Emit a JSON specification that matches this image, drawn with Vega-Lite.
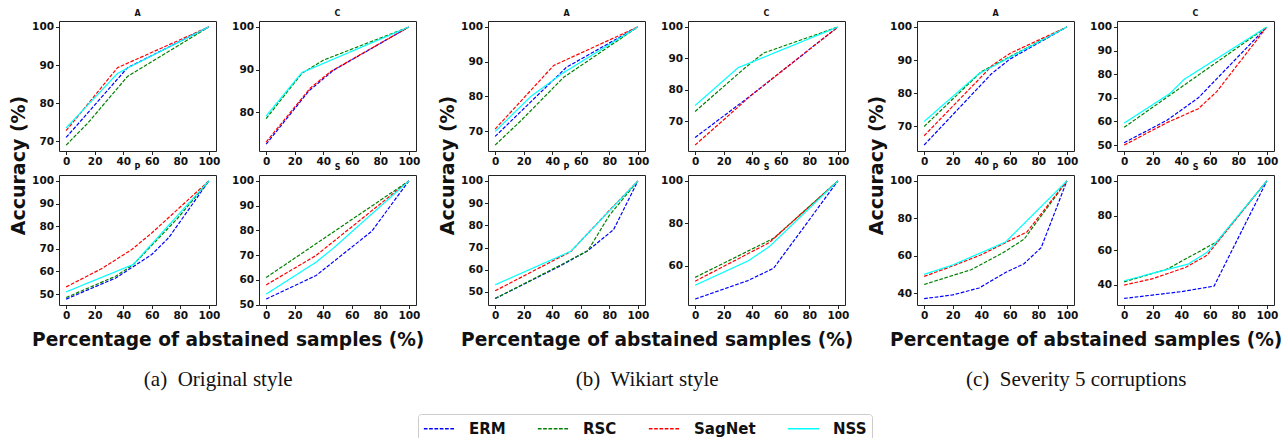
{
"$schema": "https://vega.github.io/schema/vega-lite/v6.json",
"padding": {"left": 10, "top": 9, "right": 2, "bottom": 0},
"datasets": {"d": [
{"g":"a","p":"A","m":"ERM","x":0,"y":71},{"g":"a","p":"A","m":"ERM","x":43,"y":89.3},{"g":"a","p":"A","m":"ERM","x":100,"y":100},
{"g":"a","p":"A","m":"RSC","x":0,"y":69},{"g":"a","p":"A","m":"RSC","x":15,"y":74.7},{"g":"a","p":"A","m":"RSC","x":43,"y":87},{"g":"a","p":"A","m":"RSC","x":100,"y":100},
{"g":"a","p":"A","m":"SagNet","x":0,"y":72.8},{"g":"a","p":"A","m":"SagNet","x":36,"y":89.3},{"g":"a","p":"A","m":"SagNet","x":100,"y":100},
{"g":"a","p":"A","m":"NSS","x":0,"y":73.5},{"g":"a","p":"A","m":"NSS","x":36,"y":87.8},{"g":"a","p":"A","m":"NSS","x":43,"y":89.2},{"g":"a","p":"A","m":"NSS","x":100,"y":100},

{"g":"a","p":"C","m":"ERM","x":0,"y":72.5},{"g":"a","p":"C","m":"ERM","x":30,"y":85},{"g":"a","p":"C","m":"ERM","x":47,"y":89.8},{"g":"a","p":"C","m":"ERM","x":100,"y":100},
{"g":"a","p":"C","m":"RSC","x":0,"y":78.5},{"g":"a","p":"C","m":"RSC","x":25,"y":89.1},{"g":"a","p":"C","m":"RSC","x":40,"y":92.2},{"g":"a","p":"C","m":"RSC","x":100,"y":100},
{"g":"a","p":"C","m":"SagNet","x":0,"y":73},{"g":"a","p":"C","m":"SagNet","x":31,"y":85.7},{"g":"a","p":"C","m":"SagNet","x":45,"y":89.5},{"g":"a","p":"C","m":"SagNet","x":100,"y":100},
{"g":"a","p":"C","m":"NSS","x":0,"y":79.1},{"g":"a","p":"C","m":"NSS","x":25,"y":89.3},{"g":"a","p":"C","m":"NSS","x":100,"y":100},

{"g":"a","p":"P","m":"ERM","x":0,"y":47.8},{"g":"a","p":"P","m":"ERM","x":35,"y":57.2},{"g":"a","p":"P","m":"ERM","x":60,"y":67.5},{"g":"a","p":"P","m":"ERM","x":72,"y":75},{"g":"a","p":"P","m":"ERM","x":100,"y":100},
{"g":"a","p":"P","m":"RSC","x":0,"y":48.5},{"g":"a","p":"P","m":"RSC","x":35,"y":58},{"g":"a","p":"P","m":"RSC","x":47,"y":63},{"g":"a","p":"P","m":"RSC","x":78,"y":83.4},{"g":"a","p":"P","m":"RSC","x":100,"y":100},
{"g":"a","p":"P","m":"SagNet","x":0,"y":53.2},{"g":"a","p":"P","m":"SagNet","x":25,"y":61.3},{"g":"a","p":"P","m":"SagNet","x":46,"y":69.7},{"g":"a","p":"P","m":"SagNet","x":60,"y":77},{"g":"a","p":"P","m":"SagNet","x":100,"y":100},
{"g":"a","p":"P","m":"NSS","x":0,"y":51},{"g":"a","p":"P","m":"NSS","x":47,"y":63.1},{"g":"a","p":"P","m":"NSS","x":100,"y":100},

{"g":"a","p":"S","m":"ERM","x":0,"y":52.3},{"g":"a","p":"S","m":"ERM","x":35,"y":61.8},{"g":"a","p":"S","m":"ERM","x":74,"y":79.7},{"g":"a","p":"S","m":"ERM","x":100,"y":100},
{"g":"a","p":"S","m":"RSC","x":0,"y":61},{"g":"a","p":"S","m":"RSC","x":100,"y":100},
{"g":"a","p":"S","m":"SagNet","x":0,"y":58},{"g":"a","p":"S","m":"SagNet","x":35,"y":69.9},{"g":"a","p":"S","m":"SagNet","x":100,"y":100},
{"g":"a","p":"S","m":"NSS","x":0,"y":54.3},{"g":"a","p":"S","m":"NSS","x":35,"y":67.2},{"g":"a","p":"S","m":"NSS","x":47,"y":72.8},{"g":"a","p":"S","m":"NSS","x":100,"y":100},

{"g":"b","p":"A","m":"ERM","x":0,"y":68.5},{"g":"b","p":"A","m":"ERM","x":50,"y":88.4},{"g":"b","p":"A","m":"ERM","x":100,"y":100},
{"g":"b","p":"A","m":"RSC","x":0,"y":66},{"g":"b","p":"A","m":"RSC","x":18,"y":73},{"g":"b","p":"A","m":"RSC","x":48,"y":85.5},{"g":"b","p":"A","m":"RSC","x":100,"y":100},
{"g":"b","p":"A","m":"SagNet","x":0,"y":70.6},{"g":"b","p":"A","m":"SagNet","x":41,"y":88.9},{"g":"b","p":"A","m":"SagNet","x":100,"y":100},
{"g":"b","p":"A","m":"NSS","x":0,"y":69.9},{"g":"b","p":"A","m":"NSS","x":25,"y":80},{"g":"b","p":"A","m":"NSS","x":47,"y":86.6},{"g":"b","p":"A","m":"NSS","x":100,"y":100},

{"g":"b","p":"C","m":"ERM","x":0,"y":64.8},{"g":"b","p":"C","m":"ERM","x":40,"y":78.5},{"g":"b","p":"C","m":"ERM","x":100,"y":100},
{"g":"b","p":"C","m":"RSC","x":0,"y":73.1},{"g":"b","p":"C","m":"RSC","x":35,"y":87},{"g":"b","p":"C","m":"RSC","x":48,"y":91.7},{"g":"b","p":"C","m":"RSC","x":100,"y":100},
{"g":"b","p":"C","m":"SagNet","x":0,"y":62.4},{"g":"b","p":"C","m":"SagNet","x":40,"y":78.5},{"g":"b","p":"C","m":"SagNet","x":100,"y":100},
{"g":"b","p":"C","m":"NSS","x":0,"y":75},{"g":"b","p":"C","m":"NSS","x":30,"y":87},{"g":"b","p":"C","m":"NSS","x":100,"y":100},

{"g":"b","p":"P","m":"ERM","x":0,"y":47},{"g":"b","p":"P","m":"ERM","x":45,"y":61.5},{"g":"b","p":"P","m":"ERM","x":65,"y":68.6},{"g":"b","p":"P","m":"ERM","x":83,"y":78.1},{"g":"b","p":"P","m":"ERM","x":100,"y":100},
{"g":"b","p":"P","m":"RSC","x":0,"y":47},{"g":"b","p":"P","m":"RSC","x":47,"y":62.5},{"g":"b","p":"P","m":"RSC","x":65,"y":68.6},{"g":"b","p":"P","m":"RSC","x":80,"y":84.5},{"g":"b","p":"P","m":"RSC","x":100,"y":100},
{"g":"b","p":"P","m":"SagNet","x":0,"y":50.5},{"g":"b","p":"P","m":"SagNet","x":53,"y":68.2},{"g":"b","p":"P","m":"SagNet","x":80,"y":86.7},{"g":"b","p":"P","m":"SagNet","x":100,"y":100},
{"g":"b","p":"P","m":"NSS","x":0,"y":53.2},{"g":"b","p":"P","m":"NSS","x":53,"y":68.3},{"g":"b","p":"P","m":"NSS","x":100,"y":100},

{"g":"b","p":"S","m":"ERM","x":0,"y":44.4},{"g":"b","p":"S","m":"ERM","x":37,"y":53.1},{"g":"b","p":"S","m":"ERM","x":55,"y":58.9},{"g":"b","p":"S","m":"ERM","x":100,"y":100},
{"g":"b","p":"S","m":"RSC","x":0,"y":54.6},{"g":"b","p":"S","m":"RSC","x":55,"y":73},{"g":"b","p":"S","m":"RSC","x":100,"y":100},
{"g":"b","p":"S","m":"SagNet","x":0,"y":52.8},{"g":"b","p":"S","m":"SagNet","x":52,"y":71},{"g":"b","p":"S","m":"SagNet","x":100,"y":100},
{"g":"b","p":"S","m":"NSS","x":0,"y":50.9},{"g":"b","p":"S","m":"NSS","x":37,"y":62.3},{"g":"b","p":"S","m":"NSS","x":52,"y":69.1},{"g":"b","p":"S","m":"NSS","x":100,"y":100},

{"g":"c","p":"A","m":"ERM","x":0,"y":64.4},{"g":"c","p":"A","m":"ERM","x":47,"y":85.8},{"g":"c","p":"A","m":"ERM","x":60,"y":90.3},{"g":"c","p":"A","m":"ERM","x":100,"y":100},
{"g":"c","p":"A","m":"RSC","x":0,"y":70},{"g":"c","p":"A","m":"RSC","x":40,"y":86.5},{"g":"c","p":"A","m":"RSC","x":100,"y":100},
{"g":"c","p":"A","m":"SagNet","x":0,"y":67.2},{"g":"c","p":"A","m":"SagNet","x":48,"y":88.5},{"g":"c","p":"A","m":"SagNet","x":60,"y":92},{"g":"c","p":"A","m":"SagNet","x":100,"y":100},
{"g":"c","p":"A","m":"NSS","x":0,"y":71.5},{"g":"c","p":"A","m":"NSS","x":38,"y":85.8},{"g":"c","p":"A","m":"NSS","x":100,"y":100},

{"g":"c","p":"C","m":"ERM","x":0,"y":51},{"g":"c","p":"C","m":"ERM","x":30,"y":60.5},{"g":"c","p":"C","m":"ERM","x":52,"y":70},{"g":"c","p":"C","m":"ERM","x":100,"y":100},
{"g":"c","p":"C","m":"RSC","x":0,"y":57.5},{"g":"c","p":"C","m":"RSC","x":100,"y":100},
{"g":"c","p":"C","m":"SagNet","x":0,"y":50},{"g":"c","p":"C","m":"SagNet","x":30,"y":59.5},{"g":"c","p":"C","m":"SagNet","x":52,"y":65.4},{"g":"c","p":"C","m":"SagNet","x":65,"y":72.7},{"g":"c","p":"C","m":"SagNet","x":100,"y":100},
{"g":"c","p":"C","m":"NSS","x":0,"y":59.3},{"g":"c","p":"C","m":"NSS","x":32,"y":71.8},{"g":"c","p":"C","m":"NSS","x":42,"y":77.8},{"g":"c","p":"C","m":"NSS","x":100,"y":100},

{"g":"c","p":"P","m":"ERM","x":0,"y":37},{"g":"c","p":"P","m":"ERM","x":20,"y":39},{"g":"c","p":"P","m":"ERM","x":38.5,"y":42.7},{"g":"c","p":"P","m":"ERM","x":57,"y":51},{"g":"c","p":"P","m":"ERM","x":70,"y":55.7},{"g":"c","p":"P","m":"ERM","x":82,"y":64.3},{"g":"c","p":"P","m":"ERM","x":100,"y":100},
{"g":"c","p":"P","m":"RSC","x":0,"y":44.6},{"g":"c","p":"P","m":"RSC","x":33,"y":52.5},{"g":"c","p":"P","m":"RSC","x":55,"y":61.5},{"g":"c","p":"P","m":"RSC","x":70,"y":68.8},{"g":"c","p":"P","m":"RSC","x":100,"y":100},
{"g":"c","p":"P","m":"SagNet","x":0,"y":48.9},{"g":"c","p":"P","m":"SagNet","x":20,"y":54.5},{"g":"c","p":"P","m":"SagNet","x":40,"y":60.5},{"g":"c","p":"P","m":"SagNet","x":57,"y":67},{"g":"c","p":"P","m":"SagNet","x":72,"y":72.7},{"g":"c","p":"P","m":"SagNet","x":100,"y":100},
{"g":"c","p":"P","m":"NSS","x":0,"y":50},{"g":"c","p":"P","m":"NSS","x":20,"y":55},{"g":"c","p":"P","m":"NSS","x":57,"y":67.3},{"g":"c","p":"P","m":"NSS","x":100,"y":100},

{"g":"c","p":"S","m":"ERM","x":0,"y":32.1},{"g":"c","p":"S","m":"ERM","x":40,"y":36},{"g":"c","p":"S","m":"ERM","x":63,"y":39.2},{"g":"c","p":"S","m":"ERM","x":100,"y":100},
{"g":"c","p":"S","m":"RSC","x":0,"y":41.7},{"g":"c","p":"S","m":"RSC","x":30,"y":49},{"g":"c","p":"S","m":"RSC","x":65,"y":64.8},{"g":"c","p":"S","m":"RSC","x":100,"y":100},
{"g":"c","p":"S","m":"SagNet","x":0,"y":39.8},{"g":"c","p":"S","m":"SagNet","x":20,"y":43.5},{"g":"c","p":"S","m":"SagNet","x":43,"y":50},{"g":"c","p":"S","m":"SagNet","x":58,"y":57},{"g":"c","p":"S","m":"SagNet","x":100,"y":100},
{"g":"c","p":"S","m":"NSS","x":0,"y":42.3},{"g":"c","p":"S","m":"NSS","x":45,"y":52},{"g":"c","p":"S","m":"NSS","x":58,"y":58.7},{"g":"c","p":"S","m":"NSS","x":65,"y":65},{"g":"c","p":"S","m":"NSS","x":100,"y":100}
]},
"data": {"name": "d"},
"hconcat": [
 {"title": {"text": "(a)\u00a0 Original style", "orient": "bottom", "font": "Liberation Serif", "fontSize": 21, "fontWeight": "normal", "offset": 20, "anchor": "middle", "dx": 1},
  "vconcat": [{
   "title": {"text": "Percentage of abstained samples (%)", "orient": "bottom", "font": "DejaVu Sans", "fontSize": 18.6, "fontWeight": "bold", "offset": 9, "anchor": "middle", "dx": 13},
   "vconcat": [{
    "title": {"text": "Accuracy (%)", "orient": "left", "font": "DejaVu Sans", "fontSize": 19, "fontWeight": "bold", "offset": 2, "anchor": "middle"},
    "columns": 2, "spacing": {"row": -5, "column": 10},
    "concat": [
     {"title": "A", "width": 157, "height": 130, "transform": [{"filter": "datum.g=='a' && datum.p=='A'"}], "mark": {"type": "line", "strokeWidth": 1.2},
      "encoding": {"x": {"field": "x", "type": "quantitative", "scale": {"domain": [-5, 105], "nice": false, "zero": false}, "axis": {"values": [0,20,40,60,80,100], "title": null}},
       "y": {"field": "y", "type": "quantitative", "scale": {"domain": [67.45, 101.55], "nice": false, "zero": false}, "axis": {"values": [70,80,90,100], "title": null}},
       "color": {"field": "m", "type": "nominal", "title": null, "scale": {"domain": ["ERM","RSC","SagNet","NSS"], "range": ["#0000ff","#008000","#ff0000","#00ffff"]}},
       "strokeDash": {"field": "m", "type": "nominal", "title": null, "scale": {"domain": ["ERM","RSC","SagNet","NSS"], "range": [[3.7,1.6],[3.7,1.6],[3.7,1.6],[1,0]]}}}},
     {"title": "C", "width": 157, "height": 130, "transform": [{"filter": "datum.g=='a' && datum.p=='C'"}], "mark": {"type": "line", "strokeWidth": 1.2},
      "encoding": {"x": {"field": "x", "type": "quantitative", "scale": {"domain": [-5, 105], "nice": false, "zero": false}, "axis": {"values": [0,20,40,60,80,100], "title": null}},
       "y": {"field": "y", "type": "quantitative", "scale": {"domain": [70.9, 101.4], "nice": false, "zero": false}, "axis": {"values": [80,90,100], "title": null}},
       "color": {"field": "m", "type": "nominal", "title": null, "scale": {"domain": ["ERM","RSC","SagNet","NSS"], "range": ["#0000ff","#008000","#ff0000","#00ffff"]}},
       "strokeDash": {"field": "m", "type": "nominal", "title": null, "scale": {"domain": ["ERM","RSC","SagNet","NSS"], "range": [[3.7,1.6],[3.7,1.6],[3.7,1.6],[1,0]]}}}},
     {"title": "P", "width": 157, "height": 130, "transform": [{"filter": "datum.g=='a' && datum.p=='P'"}], "mark": {"type": "line", "strokeWidth": 1.2},
      "encoding": {"x": {"field": "x", "type": "quantitative", "scale": {"domain": [-5, 105], "nice": false, "zero": false}, "axis": {"values": [0,20,40,60,80,100], "title": null}},
       "y": {"field": "y", "type": "quantitative", "scale": {"domain": [45.2, 102.6], "nice": false, "zero": false}, "axis": {"values": [50,60,70,80,90,100], "title": null}},
       "color": {"field": "m", "type": "nominal", "title": null, "scale": {"domain": ["ERM","RSC","SagNet","NSS"], "range": ["#0000ff","#008000","#ff0000","#00ffff"]}},
       "strokeDash": {"field": "m", "type": "nominal", "title": null, "scale": {"domain": ["ERM","RSC","SagNet","NSS"], "range": [[3.7,1.6],[3.7,1.6],[3.7,1.6],[1,0]]}}}},
     {"title": "S", "width": 157, "height": 130, "transform": [{"filter": "datum.g=='a' && datum.p=='S'"}], "mark": {"type": "line", "strokeWidth": 1.2},
      "encoding": {"x": {"field": "x", "type": "quantitative", "scale": {"domain": [-5, 105], "nice": false, "zero": false}, "axis": {"values": [0,20,40,60,80,100], "title": null}},
       "y": {"field": "y", "type": "quantitative", "scale": {"domain": [49.9, 102.4], "nice": false, "zero": false}, "axis": {"values": [50,60,70,80,90,100], "title": null}},
       "color": {"field": "m", "type": "nominal", "title": null, "scale": {"domain": ["ERM","RSC","SagNet","NSS"], "range": ["#0000ff","#008000","#ff0000","#00ffff"]}},
       "strokeDash": {"field": "m", "type": "nominal", "title": null, "scale": {"domain": ["ERM","RSC","SagNet","NSS"], "range": [[3.7,1.6],[3.7,1.6],[3.7,1.6],[1,0]]}}}}
    ]
   }]
  }]
 },
 {"title": {"text": "(b)\u00a0 Wikiart style", "orient": "bottom", "font": "Liberation Serif", "fontSize": 21, "fontWeight": "normal", "offset": 20, "anchor": "middle", "dx": 1},
  "vconcat": [{
   "title": {"text": "Percentage of abstained samples (%)", "orient": "bottom", "font": "DejaVu Sans", "fontSize": 18.6, "fontWeight": "bold", "offset": 9, "anchor": "middle", "dx": 13},
   "vconcat": [{
    "title": {"text": "Accuracy (%)", "orient": "left", "font": "DejaVu Sans", "fontSize": 19, "fontWeight": "bold", "offset": 2, "anchor": "middle"},
    "columns": 2, "spacing": {"row": -5, "column": 10},
    "concat": [
     {"title": "A", "width": 157, "height": 130, "transform": [{"filter": "datum.g=='b' && datum.p=='A'"}], "mark": {"type": "line", "strokeWidth": 1.2},
      "encoding": {"x": {"field": "x", "type": "quantitative", "scale": {"domain": [-5, 105], "nice": false, "zero": false}, "axis": {"values": [0,20,40,60,80,100], "title": null}},
       "y": {"field": "y", "type": "quantitative", "scale": {"domain": [64.3, 101.7], "nice": false, "zero": false}, "axis": {"values": [70,80,90,100], "title": null}},
       "color": {"field": "m", "type": "nominal", "title": null, "scale": {"domain": ["ERM","RSC","SagNet","NSS"], "range": ["#0000ff","#008000","#ff0000","#00ffff"]}},
       "strokeDash": {"field": "m", "type": "nominal", "title": null, "scale": {"domain": ["ERM","RSC","SagNet","NSS"], "range": [[3.7,1.6],[3.7,1.6],[3.7,1.6],[1,0]]}}}},
     {"title": "C", "width": 157, "height": 130, "transform": [{"filter": "datum.g=='b' && datum.p=='C'"}], "mark": {"type": "line", "strokeWidth": 1.2},
      "encoding": {"x": {"field": "x", "type": "quantitative", "scale": {"domain": [-5, 105], "nice": false, "zero": false}, "axis": {"values": [0,20,40,60,80,100], "title": null}},
       "y": {"field": "y", "type": "quantitative", "scale": {"domain": [60.5, 101.9], "nice": false, "zero": false}, "axis": {"values": [70,80,90,100], "title": null}},
       "color": {"field": "m", "type": "nominal", "title": null, "scale": {"domain": ["ERM","RSC","SagNet","NSS"], "range": ["#0000ff","#008000","#ff0000","#00ffff"]}},
       "strokeDash": {"field": "m", "type": "nominal", "title": null, "scale": {"domain": ["ERM","RSC","SagNet","NSS"], "range": [[3.7,1.6],[3.7,1.6],[3.7,1.6],[1,0]]}}}},
     {"title": "P", "width": 157, "height": 130, "transform": [{"filter": "datum.g=='b' && datum.p=='P'"}], "mark": {"type": "line", "strokeWidth": 1.2},
      "encoding": {"x": {"field": "x", "type": "quantitative", "scale": {"domain": [-5, 105], "nice": false, "zero": false}, "axis": {"values": [0,20,40,60,80,100], "title": null}},
       "y": {"field": "y", "type": "quantitative", "scale": {"domain": [44.1, 102.7], "nice": false, "zero": false}, "axis": {"values": [50,60,70,80,90,100], "title": null}},
       "color": {"field": "m", "type": "nominal", "title": null, "scale": {"domain": ["ERM","RSC","SagNet","NSS"], "range": ["#0000ff","#008000","#ff0000","#00ffff"]}},
       "strokeDash": {"field": "m", "type": "nominal", "title": null, "scale": {"domain": ["ERM","RSC","SagNet","NSS"], "range": [[3.7,1.6],[3.7,1.6],[3.7,1.6],[1,0]]}}}},
     {"title": "S", "width": 157, "height": 130, "transform": [{"filter": "datum.g=='b' && datum.p=='S'"}], "mark": {"type": "line", "strokeWidth": 1.2},
      "encoding": {"x": {"field": "x", "type": "quantitative", "scale": {"domain": [-5, 105], "nice": false, "zero": false}, "axis": {"values": [0,20,40,60,80,100], "title": null}},
       "y": {"field": "y", "type": "quantitative", "scale": {"domain": [41.6, 102.8], "nice": false, "zero": false}, "axis": {"values": [60,80,100], "title": null}},
       "color": {"field": "m", "type": "nominal", "title": null, "scale": {"domain": ["ERM","RSC","SagNet","NSS"], "range": ["#0000ff","#008000","#ff0000","#00ffff"]}},
       "strokeDash": {"field": "m", "type": "nominal", "title": null, "scale": {"domain": ["ERM","RSC","SagNet","NSS"], "range": [[3.7,1.6],[3.7,1.6],[3.7,1.6],[1,0]]}}}}
    ]
   }]
  }]
 },
 {"title": {"text": "(c)\u00a0 Severity 5 corruptions", "orient": "bottom", "font": "Liberation Serif", "fontSize": 21, "fontWeight": "normal", "offset": 20, "anchor": "middle", "dx": 1},
  "vconcat": [{
   "title": {"text": "Percentage of abstained samples (%)", "orient": "bottom", "font": "DejaVu Sans", "fontSize": 18.6, "fontWeight": "bold", "offset": 9, "anchor": "middle", "dx": 13},
   "vconcat": [{
    "title": {"text": "Accuracy (%)", "orient": "left", "font": "DejaVu Sans", "fontSize": 19, "fontWeight": "bold", "offset": 2, "anchor": "middle"},
    "columns": 2, "spacing": {"row": -5, "column": 10},
    "concat": [
     {"title": "A", "width": 157, "height": 130, "transform": [{"filter": "datum.g=='c' && datum.p=='A'"}], "mark": {"type": "line", "strokeWidth": 1.2},
      "encoding": {"x": {"field": "x", "type": "quantitative", "scale": {"domain": [-5, 105], "nice": false, "zero": false}, "axis": {"values": [0,20,40,60,80,100], "title": null}},
       "y": {"field": "y", "type": "quantitative", "scale": {"domain": [62.6, 101.8], "nice": false, "zero": false}, "axis": {"values": [70,80,90,100], "title": null}},
       "color": {"field": "m", "type": "nominal", "title": null, "scale": {"domain": ["ERM","RSC","SagNet","NSS"], "range": ["#0000ff","#008000","#ff0000","#00ffff"]}},
       "strokeDash": {"field": "m", "type": "nominal", "title": null, "scale": {"domain": ["ERM","RSC","SagNet","NSS"], "range": [[3.7,1.6],[3.7,1.6],[3.7,1.6],[1,0]]}}}},
     {"title": "C", "width": 157, "height": 130, "transform": [{"filter": "datum.g=='c' && datum.p=='C'"}], "mark": {"type": "line", "strokeWidth": 1.2},
      "encoding": {"x": {"field": "x", "type": "quantitative", "scale": {"domain": [-5, 105], "nice": false, "zero": false}, "axis": {"values": [0,20,40,60,80,100], "title": null}},
       "y": {"field": "y", "type": "quantitative", "scale": {"domain": [47.5, 102.5], "nice": false, "zero": false}, "axis": {"values": [50,60,70,80,90,100], "title": null}},
       "color": {"field": "m", "type": "nominal", "title": null, "scale": {"domain": ["ERM","RSC","SagNet","NSS"], "range": ["#0000ff","#008000","#ff0000","#00ffff"]}},
       "strokeDash": {"field": "m", "type": "nominal", "title": null, "scale": {"domain": ["ERM","RSC","SagNet","NSS"], "range": [[3.7,1.6],[3.7,1.6],[3.7,1.6],[1,0]]}}}},
     {"title": "P", "width": 157, "height": 130, "transform": [{"filter": "datum.g=='c' && datum.p=='P'"}], "mark": {"type": "line", "strokeWidth": 1.2},
      "encoding": {"x": {"field": "x", "type": "quantitative", "scale": {"domain": [-5, 105], "nice": false, "zero": false}, "axis": {"values": [0,20,40,60,80,100], "title": null}},
       "y": {"field": "y", "type": "quantitative", "scale": {"domain": [33.6, 103.2], "nice": false, "zero": false}, "axis": {"values": [40,60,80,100], "title": null}},
       "color": {"field": "m", "type": "nominal", "title": null, "scale": {"domain": ["ERM","RSC","SagNet","NSS"], "range": ["#0000ff","#008000","#ff0000","#00ffff"]}},
       "strokeDash": {"field": "m", "type": "nominal", "title": null, "scale": {"domain": ["ERM","RSC","SagNet","NSS"], "range": [[3.7,1.6],[3.7,1.6],[3.7,1.6],[1,0]]}}}},
     {"title": "S", "width": 157, "height": 130, "transform": [{"filter": "datum.g=='c' && datum.p=='S'"}], "mark": {"type": "line", "strokeWidth": 1.2},
      "encoding": {"x": {"field": "x", "type": "quantitative", "scale": {"domain": [-5, 105], "nice": false, "zero": false}, "axis": {"values": [0,20,40,60,80,100], "title": null}},
       "y": {"field": "y", "type": "quantitative", "scale": {"domain": [28.3, 103.4], "nice": false, "zero": false}, "axis": {"values": [40,60,80,100], "title": null}},
       "color": {"field": "m", "type": "nominal", "title": null, "scale": {"domain": ["ERM","RSC","SagNet","NSS"], "range": ["#0000ff","#008000","#ff0000","#00ffff"]}, "legend": {"orient": "none", "legendX": 359, "legendY": 393}},
       "strokeDash": {"field": "m", "type": "nominal", "title": null, "scale": {"domain": ["ERM","RSC","SagNet","NSS"], "range": [[3.7,1.6],[3.7,1.6],[3.7,1.6],[1,0]]}, "legend": {"orient": "none", "legendX": 359, "legendY": 393}}}}
    ]
   }]
  }]
 }
],
"spacing": 14,
"config": {
 "font": "DejaVu Sans",
 "view": {"stroke": "#222", "strokeWidth": 1},
 "axis": {"domain": false, "grid": false, "ticks": true, "tickSize": 3.5, "tickColor": "#222", "labelFont": "DejaVu Sans", "labelFontWeight": "bold", "labelFontSize": 10.5, "labelColor": "#111", "labelPadding": 2, "labelFlush": false},
 "title": {"font": "DejaVu Sans", "fontWeight": "bold", "fontSize": 8, "offset": 3, "color": "#111"},
 "legend": {"orient": "none", "legendX": 359, "legendY": 393, "direction": "horizontal", "labelFont": "DejaVu Sans", "labelFontWeight": "bold", "labelFontSize": 15, "labelColor": "#111", "symbolType": "M-1,0L2.6,0", "symbolSize": 300, "symbolStrokeWidth": 1.5, "labelOffset": 27, "columnPadding": 28, "strokeColor": "#cccccc", "padding": 5, "cornerRadius": 3}
}
}
